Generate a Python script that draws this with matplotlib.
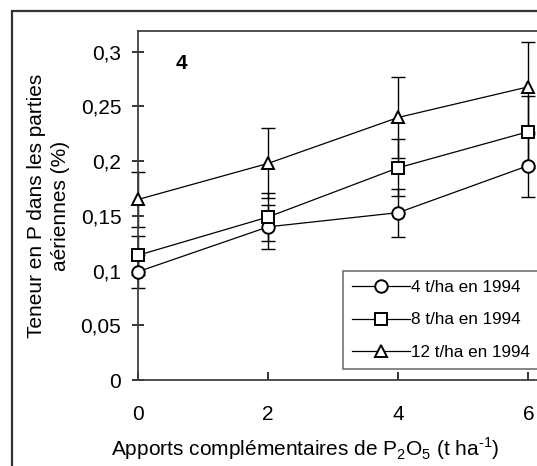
import numpy as np
import matplotlib
matplotlib.use("Agg")
import matplotlib.pyplot as plt
from matplotlib.patches import Rectangle

plt.rcParams['font.family'] = ['Liberation Sans', 'DejaVu Sans']

# data
apports = [0, 2, 4, 6]
teneur_4t = [0.099, 0.140, 0.153, 0.196]
err_4t = [0.015, 0.020, 0.022, 0.029]
teneur_8t = [0.114, 0.149, 0.194, 0.227]
err_8t = [0.018, 0.022, 0.026, 0.033]
teneur_12t = [0.165, 0.198, 0.240, 0.268]
err_12t = [0.025, 0.032, 0.037, 0.041]

labels = ['4 t/ha en 1994', '8 t/ha en 1994', '12 t/ha en 1994']
markers = ['o', 's', '^']
yticks = [0, 0.05, 0.1, 0.15, 0.2, 0.25, 0.3]
ytick_labels = ['0', '0,05', '0,1', '0,15', '0,2', '0,25', '0,3']
xticks = [0, 2, 4, 6]

W, H = 537, 466
fig = plt.figure(figsize=(W / 100, H / 100), dpi=100)
ax = fig.add_axes([138 / W, 86 / H, 410 / W, 349 / H])

series = [(teneur_4t, err_4t), (teneur_8t, err_8t), (teneur_12t, err_12t)]
handles = []
for (y, e), m, lab in zip(series, markers, labels):
    ax.errorbar(apports, y, yerr=e, fmt='none', ecolor='black', elinewidth=1.0,
                capsize=5, capthick=1.0, clip_on=False, zorder=2)
    h, = ax.plot(apports, y, color='black', lw=0.9, marker=m, ms=9,
                 mfc='white', mec='black', mew=1.4, clip_on=False, zorder=3,
                 label=lab)
    handles.append(h)

ax.set_xlim(0, 6.3)
ax.set_ylim(0, 0.319)
ax.set_xticks(xticks)
ax.set_xticklabels([str(v) for v in xticks])
ax.set_yticks(yticks)
ax.set_yticklabels(ytick_labels)

spine_col = '#404040'
for s in ['left', 'bottom', 'top']:
    ax.spines[s].set_color(spine_col)
    ax.spines[s].set_linewidth(1.3)
ax.spines['right'].set_visible(False)

ax.tick_params(axis='y', direction='inout', length=8, width=1.1, color='black',
               labelsize=15, pad=8)
ax.tick_params(axis='x', direction='in', length=6, width=1.1, color='black',
               labelsize=15, pad=18)

ax.set_ylabel('Teneur en P dans les parties\naériennes (%)', fontsize=15,
              linespacing=1.35)
ax.yaxis.set_label_coords(-68 / 410, 0.5)
ax.set_xlabel('Apports complémentaires de P$_\\mathregular{2}$O$_\\mathregular{5}$ (t ha$^\\mathregular{\u20101}$)',
              fontsize=15)
ax.xaxis.set_label_coords((305 - 138) / 410, -55 / 349)

ax.text((181 - 138) / 410, (380 - 64) / 349, '4', transform=ax.transAxes,
        fontsize=15, fontweight='bold', ha='center', va='center')

leg = ax.legend(handles=handles, loc='upper left',
                bbox_to_anchor=(343 / W, 1 - 271 / H),
                bbox_transform=fig.transFigure, fontsize=12.3,
                frameon=True, fancybox=False, borderpad=0.5,
                handlelength=3.4, handletextpad=0.1, labelspacing=1.05,
                borderaxespad=0)
leg.get_frame().set_edgecolor(spine_col)
leg.get_frame().set_linewidth(1.1)

# outer frame of the figure
fig.add_artist(Rectangle((11.5 / W, -0.2), 1.5, 1.2 - 10.5 / H, fill=False,
                         transform=fig.transFigure, lw=1.6, ec='#333333'))

fig.savefig('out.png', dpi=100)
